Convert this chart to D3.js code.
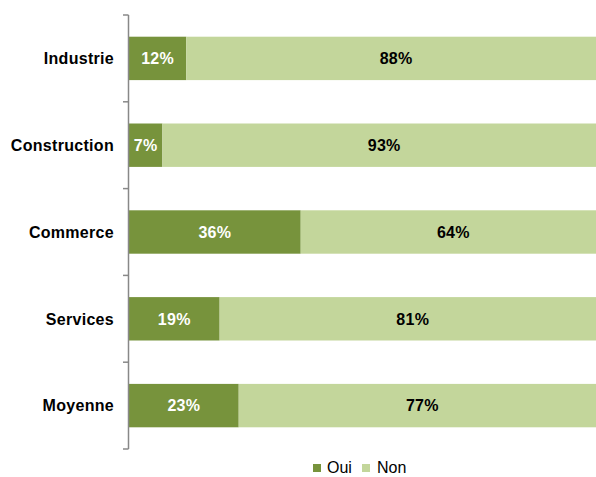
<!DOCTYPE html>
<html><head><meta charset="utf-8">
<script src="https://cdn.jsdelivr.net/npm/d3@7"></script>
<style>body{margin:0;background:#fff;overflow:hidden}svg{display:block}</style>
</head><body>
<script>
const categories = ["Industrie","Construction","Commerce","Services","Moyenne"];
const oui = [12,7,36,19,23];
const non = [88,93,64,81,77];
const seriesNames = ["Oui","Non"];
const colors = ["#77933c","#c3d69b"];

const W=596,H=477;
const svg=d3.select("body").append("svg").attr("width",W).attr("height",H);
const x=d3.scaleLinear().domain([0,100]).range([129,606]);
const y=d3.scaleBand().domain(categories).range([15,449]).paddingInner(0.5).paddingOuter(0.25);
const font="Liberation Sans, Arial, sans-serif";

const rows=categories.map((c,i)=>({c,vals:[oui[i],non[i]]}));
rows.forEach(r=>{
  let acc=0;
  r.vals.forEach((v,j)=>{
    svg.append("rect").attr("x",x(acc)).attr("y",y(r.c)).attr("width",x(acc+v)-x(acc)).attr("height",y.bandwidth()).attr("fill",colors[j]);
    svg.append("text").attr("x",(x(acc)+x(acc+v))/2).attr("y",y(r.c)+y.bandwidth()/2).attr("dy","0.36em")
      .attr("text-anchor","middle").attr("font-family",font).attr("font-weight","bold").attr("font-size",16).attr("letter-spacing","0.3px")
      .attr("fill",j===0?"#fff":"#000").text(v+"%");
    acc+=v;
  });
});

// axis
const g=svg.append("g");
g.append("line").attr("x1",128.5).attr("x2",128.5).attr("y1",15).attr("y2",449).attr("stroke","#888").attr("stroke-width",1.5);
d3.range(categories.length+1).forEach(i=>{
  const yy=15+i*(434/categories.length);
  g.append("line").attr("x1",123).attr("x2",128.5).attr("y1",yy).attr("y2",yy).attr("stroke","#888").attr("stroke-width",1.5);
});
categories.forEach(c=>{
  svg.append("text").attr("x",114).attr("y",y(c)+y.bandwidth()/2).attr("dy","0.36em").attr("text-anchor","end")
    .attr("font-family",font).attr("font-weight","bold").attr("font-size",16).attr("letter-spacing","0.3px").attr("fill","#000").text(c);
});

// legend
const lg=[{x:313,tx:327},{x:362,tx:377}];
seriesNames.forEach((s,i)=>{
  svg.append("rect").attr("x",lg[i].x).attr("y",464).attr("width",8).attr("height",8).attr("fill",colors[i]);
  svg.append("text").attr("x",lg[i].tx).attr("y",473).attr("font-family",font).attr("font-size",16).attr("fill","#000").text(s);
});
</script>
</body></html>
